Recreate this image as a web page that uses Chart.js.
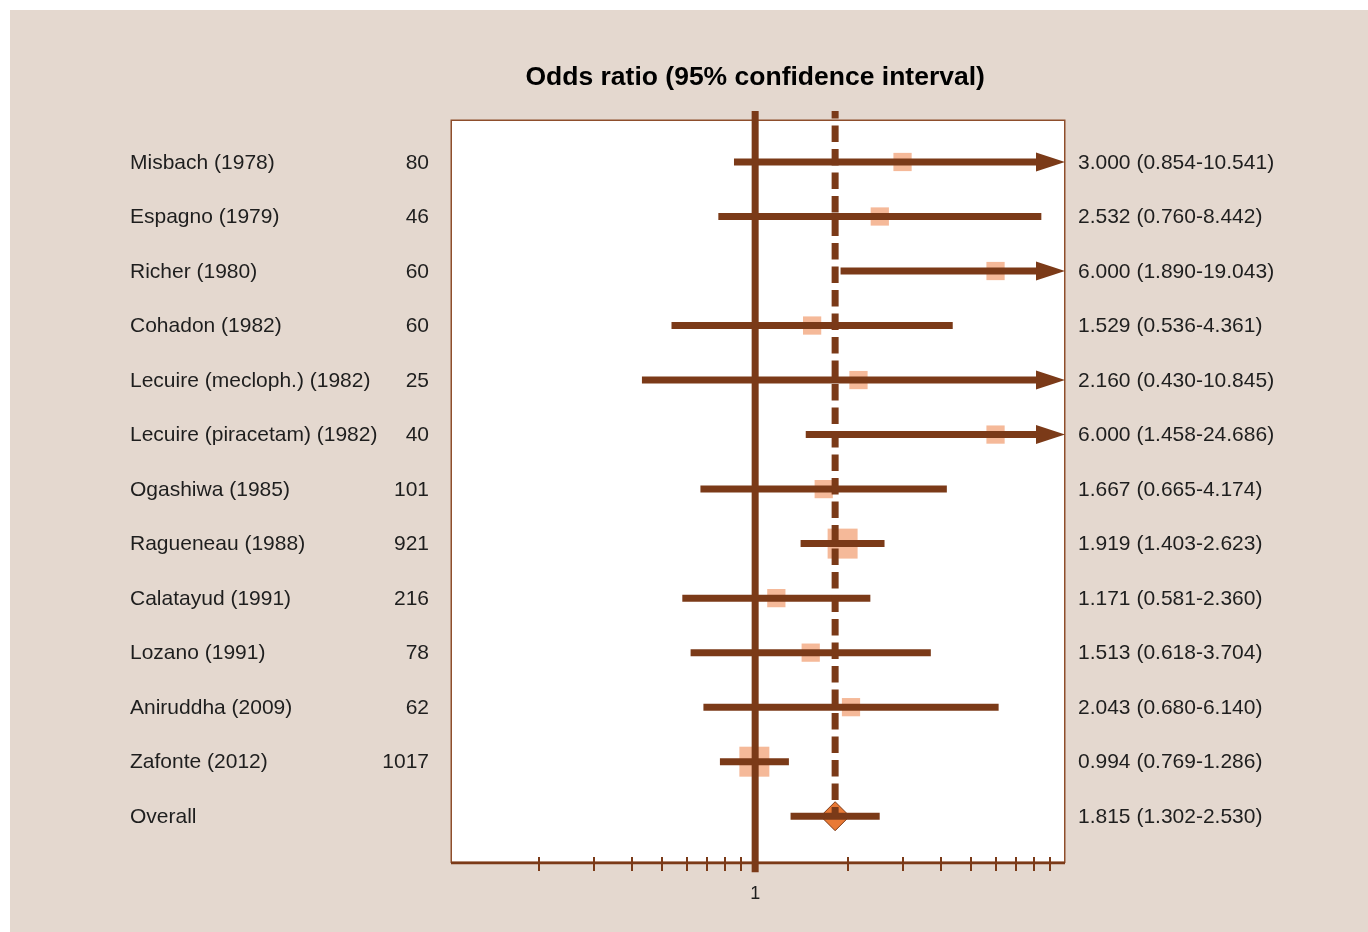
<!DOCTYPE html>
<html>
<head>
<meta charset="utf-8">
<title>Forest plot</title>
<script src="https://cdn.jsdelivr.net/npm/chart.js@4.4.1/dist/chart.umd.min.js"></script>
<style>
  html, body { margin: 0; padding: 0; background: #ffffff; }
  #panel { position: absolute; left: 10px; top: 10px; width: 1358px; height: 922px; background: #E4D8CF; }
</style>
</head>
<body>
<div id="panel"><canvas id="forest"></canvas></div>
<script>
/* ---------- data ---------- */
const studies = ['Misbach (1978)', 'Espagno (1979)', 'Richer (1980)', 'Cohadon (1982)',
  'Lecuire (mecloph.) (1982)', 'Lecuire (piracetam) (1982)', 'Ogashiwa (1985)',
  'Ragueneau (1988)', 'Calatayud (1991)', 'Lozano (1991)', 'Aniruddha (2009)', 'Zafonte (2012)'];
const sampleSizes = [80, 46, 60, 60, 25, 40, 101, 921, 216, 78, 62, 1017];
const oddsRatios = [3.000, 2.532, 6.000, 1.529, 2.160, 6.000, 1.667, 1.919, 1.171, 1.513, 2.043, 0.994];
const ciLower = [0.854, 0.760, 1.890, 0.536, 0.430, 1.458, 0.665, 1.403, 0.581, 0.618, 0.680, 0.769];
const ciUpper = [10.541, 8.442, 19.043, 4.361, 10.845, 24.686, 4.174, 2.623, 2.360, 3.704, 6.140, 1.286];

const overallLabel = 'Overall';
const overallOR = 1.815;
const overallLower = 1.302;
const overallUpper = 2.530;

const axisTicks = [0.2, 0.3, 0.4, 0.5, 0.6, 0.7, 0.8, 0.9, 2, 3, 4, 5, 6, 7, 8, 9];
const axisTickLabels = [1];
const titleText = 'Odds ratio (95% confidence interval)';

/* ---------- look ---------- */
const BROWN = '#7B3A18';
const SALMON = '#F5B999';
const DIAMOND = '#E97A36';
const TEXT = '#1E1E1E';
const FONT = '"Liberation Sans", Arial, Helvetica, sans-serif';

const X_MIN = 0.1036, X_MAX = 10.07;
const Y_MIN = -0.77, Y_MAX = 12.84;
const LINE_TOP = -0.935;     // reference lines poke above the plot box
const LINE_BOTTOM = 13.03;   // the line at 1 reaches below the axis
const overallRow = studies.length;

/* ---------- datasets ---------- */
const ciSets = studies.map((name, i) => ({
  label: name,
  data: [{ x: ciLower[i], y: i }, { x: ciUpper[i], y: i }],
  showLine: true, pointRadius: 0, borderColor: BROWN, borderWidth: 7,
  borderCapStyle: 'butt', order: 3,
  clip: ciUpper[i] > X_MAX ? { left: false, top: false, right: -18, bottom: false } : undefined,
}));

const datasets = [
  // squares (drawn first, under everything)
  {
    label: 'weights',
    data: oddsRatios.map((v, i) => ({ x: v, y: i })),
    pointStyle: 'rect',
    pointRadius: (c) => sampleSizes[c.dataIndex] > 500 ? 21.2 : 12.9,
    backgroundColor: SALMON, borderWidth: 0, order: 5,
  },
  // overall diamond
  {
    label: 'overall',
    data: [{ x: overallOR, y: overallRow }],
    pointStyle: 'rectRot', pointRadius: 14.5,
    backgroundColor: DIAMOND, borderColor: BROWN, borderWidth: 1, order: 4,
  },
  ...ciSets,
  {
    label: 'overall CI',
    data: [{ x: overallLower, y: overallRow }, { x: overallUpper, y: overallRow }],
    showLine: true, pointRadius: 0, borderColor: BROWN, borderWidth: 7, borderCapStyle: 'butt', order: 3,
  },
  // dashed line at overall estimate
  {
    label: 'overall line',
    data: [{ x: overallOR, y: LINE_TOP }, { x: overallOR, y: overallRow }],
    showLine: true, pointRadius: 0, borderColor: BROWN, borderWidth: 7,
    borderDash: [16.5, 7], borderDashOffset: 9, borderCapStyle: 'butt', clip: false, order: 2,
  },
  // no-effect line at 1
  {
    label: 'no effect',
    data: [{ x: 1, y: LINE_TOP }, { x: 1, y: LINE_BOTTOM }],
    showLine: true, pointRadius: 0, borderColor: BROWN, borderWidth: 7, borderCapStyle: 'butt', clip: false, order: 1,
  },
];

/* ---------- plot box + axis ---------- */
const boxPlugin = {
  id: 'box',
  beforeDatasetsDraw(chart) {
    const { ctx, chartArea: a, scales: { x } } = chart;
    ctx.save();
    ctx.fillStyle = '#ffffff';
    ctx.fillRect(a.left, a.top, a.right - a.left, a.bottom - a.top);
    ctx.strokeStyle = '#8E4E2C';
    ctx.lineWidth = 1.5;
    ctx.strokeRect(a.left + 0.25, a.top + 0.25, a.right - a.left - 0.5, a.bottom - a.top);
    // axis line
    ctx.strokeStyle = BROWN;
    ctx.lineWidth = 2.5;
    ctx.beginPath();
    ctx.moveTo(a.left, a.bottom + 1);
    ctx.lineTo(a.right, a.bottom + 1);
    ctx.stroke();
    // tick marks crossing the axis
    ctx.lineWidth = 2;
    axisTicks.forEach((v) => {
      const px = Math.round(x.getPixelForValue(v));
      ctx.beginPath();
      ctx.moveTo(px, a.bottom - 5);
      ctx.lineTo(px, a.bottom + 9);
      ctx.stroke();
    });
    ctx.restore();
  },
  afterDatasetsDraw(chart) {
    // arrow heads for intervals running off the right edge
    const { ctx, chartArea: a, scales: { y } } = chart;
    ctx.save();
    ctx.fillStyle = BROWN;
    ciUpper.forEach((hi, i) => {
      if (hi <= X_MAX) return;
      const py = y.getPixelForValue(i);
      ctx.beginPath();
      ctx.moveTo(a.right, py);
      ctx.lineTo(a.right - 29, py - 9.5);
      ctx.lineTo(a.right - 29, py + 9.5);
      ctx.closePath();
      ctx.fill();
    });
    ctx.restore();
  },
};

/* ---------- text columns ---------- */
const fmt = (v) => v.toFixed(3);
const textPlugin = {
  id: 'forestText',
  afterDraw(chart) {
    const { ctx, chartArea: a, scales: { x, y } } = chart;
    ctx.save();
    ctx.fillStyle = TEXT;
    ctx.textBaseline = 'middle';
    ctx.font = '21px ' + FONT;
    const names = [...studies, overallLabel];
    names.forEach((name, i) => {
      const py = y.getPixelForValue(i) + 1;
      ctx.textAlign = 'left';
      ctx.fillText(name, 120, py);
      if (i < studies.length) {
        ctx.textAlign = 'right';
        ctx.fillText(String(sampleSizes[i]), 419, py);
      }
      const or = i < studies.length ? oddsRatios[i] : overallOR;
      const lo = i < studies.length ? ciLower[i] : overallLower;
      const hi = i < studies.length ? ciUpper[i] : overallUpper;
      ctx.textAlign = 'left';
      ctx.fillText(`${fmt(or)} (${fmt(lo)}-${fmt(hi)})`, a.right + 13, py);
    });
    // axis label
    ctx.font = '18px ' + FONT;
    ctx.textAlign = 'center';
    axisTickLabels.forEach((v) => ctx.fillText(String(v), x.getPixelForValue(v), a.bottom + 32));
    // title
    ctx.font = 'bold 26.5px ' + FONT;
    ctx.fillStyle = '#000000';
    ctx.fillText(titleText, x.getPixelForValue(1), 68);
    ctx.restore();
  },
};

new Chart(document.getElementById('forest'), {
  type: 'scatter',
  data: { datasets },
  options: {
    animation: false, responsive: true, maintainAspectRatio: false, events: [],
    layout: { padding: { left: 441, right: 303, top: 110, bottom: 70 } },
    scales: {
      x: { type: 'logarithmic', min: X_MIN, max: X_MAX, display: false },
      y: { type: 'linear', min: Y_MIN, max: Y_MAX, reverse: true, display: false },
    },
    plugins: { legend: { display: false }, tooltip: { enabled: false } },
  },
  plugins: [boxPlugin, textPlugin],
});
</script>
</body>
</html>
